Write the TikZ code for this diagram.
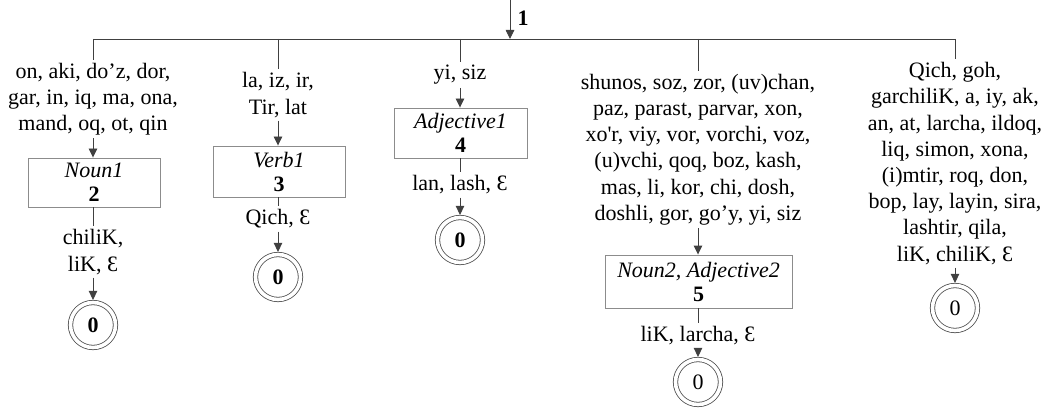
\documentclass[tikz,border=0pt]{standalone}
\usepackage{fontspec}
\setmainfont{Liberation Serif}
\newfontfamily\plainserif{Liberation Serif}
\usetikzlibrary{arrows.meta}
\begin{document}
\begin{tikzpicture}[x=1pt,y=-1pt,
  lbl/.style={font=\fontsize{22}{26.2}\selectfont, align=center, inner sep=3pt},
  stbox/.style={draw=black!45, line width=0.9pt, font=\fontsize{22}{25}\selectfont, align=center, inner sep=0pt},
  fin/.style={circle, draw=black!70, line width=0.8pt, double, double distance=3.6pt, minimum size=45pt, inner sep=0pt, outer sep=2.6pt, font=\fontsize{22}{26}\selectfont},
  conn/.style={draw=black!75, line width=0.9pt},
  arr/.style={conn, -{Triangle[length=9pt,width=8.5pt]}},
]
\useasboundingbox (0,0) rectangle (1045,409);

% entry arrow and bus
\coordinate (start) at (510,0);
\coordinate (j0) at (510,39);
\draw[arr] (start) -- (j0);
\node[font=\fontsize{22}{26}\selectfont\bfseries, inner sep=0pt] (one) at (523,18) {1};
\coordinate (b1) at (93,39);
\coordinate (b2) at (278,39);
\coordinate (b3) at (460,39);
\coordinate (b4) at (698,39);
\coordinate (b5) at (955,39);
\draw[conn] (b1) -- (b5);

% branch 1
\node[lbl] (L1a) at (93,99) {on, aki, do’z, dor,\\gar, in, iq, ma, ona,\\mand, oq, ot, qin};
\node[stbox, minimum width=132pt, minimum height=49pt] (S2) at (94,182.5) {\itshape Noun1\\[-1pt]\bfseries 2};
\node[lbl] (L1b) at (93,252) {chiliK,\\liK, Ɛ};
\node[fin, font=\fontsize{22}{26}\selectfont\bfseries] (F2) at (93,325) {0};
\draw[conn] (b1) -- (L1a.north);
\draw[arr] (L1a.south) -- (S2.north -| L1a.south);
\draw[conn] (S2.south -| L1b.north) -- (L1b.north);
\draw[arr] (L1b.south) -- (F2.north);

% branch 2
\node[lbl] (L2a) at (278,95) {la, iz, ir,\\Tir, lat};
\node[stbox, minimum width=132pt, minimum height=51pt] (S3) at (279,171.5) {\itshape Verb1\\[-1pt]\bfseries 3};
\node[lbl] (L2b) at (278,219) {Qich, Ɛ};
\node[fin, font=\fontsize{22}{26}\selectfont\bfseries] (F3) at (278,277) {0};
\draw[conn] (b2) -- (L2a.north);
\draw[arr] (L2a.south) -- (S3.north -| L2a.south);
\draw[conn] (S3.south -| L2b.north) -- (L2b.north);
\draw[arr] (L2b.south) -- (F3.north);

% branch 3
\node[lbl] (L3a) at (460,75) {yi, siz};
\node[stbox, minimum width=133pt, minimum height=50pt] (S4) at (460.5,133) {\itshape Adjective1\\[-1pt]\bfseries 4};
\node[lbl] (L3b) at (460,185) {lan, lash, Ɛ};
\node[fin, font=\fontsize{22}{26}\selectfont\bfseries] (F4) at (460,240) {0};
\draw[conn] (b3) -- (L3a.north);
\draw[arr] (L3a.south) -- (S4.north -| L3a.south);
\draw[conn] (S4.south -| L3b.north) -- (L3b.north);
\draw[arr] (L3b.south) -- (F4.north);

% branch 4
\node[lbl] (L4a) at (698,149.5) {shunos, soz, zor, (uv)chan,\\paz, parast, parvar, xon,\\xo{\plainserif'}r, viy, vor, vorchi, voz,\\(u)vchi, qoq, boz, kash,\\mas, li, kor, chi, dosh,\\doshli, gor, go’y, yi, siz};
\node[stbox, minimum width=187pt, minimum height=53pt] (S5) at (698.5,281.5) {\itshape Noun2, Adjective2\\[-1pt]\bfseries 5};
\node[lbl] (L4b) at (698,336) {liK, larcha, Ɛ};
\node[fin] (F5) at (698,382) {0};
\draw[conn] (b4) -- (L4a.north);
\draw[arr] (L4a.south) -- (S5.north -| L4a.south);
\draw[conn] (S5.south -| L4b.north) -- (L4b.north);
\draw[arr] (L4b.south) -- (F5.north);

% branch 5
\node[lbl] (L5a) at (955,163.5) {Qich, goh,\\garchiliK, a, iy, ak,\\an, at, larcha, ildoq,\\liq, simon, xona,\\(i)mtir, roq, don,\\bop, lay, layin, sira,\\lashtir, qila,\\liK, chiliK, Ɛ};
\node[fin] (F6) at (955,308) {0};
\draw[conn] (b5) -- (L5a.north);
\draw[arr] (L5a.south) -- (F6.north);
\end{tikzpicture}
\end{document}
